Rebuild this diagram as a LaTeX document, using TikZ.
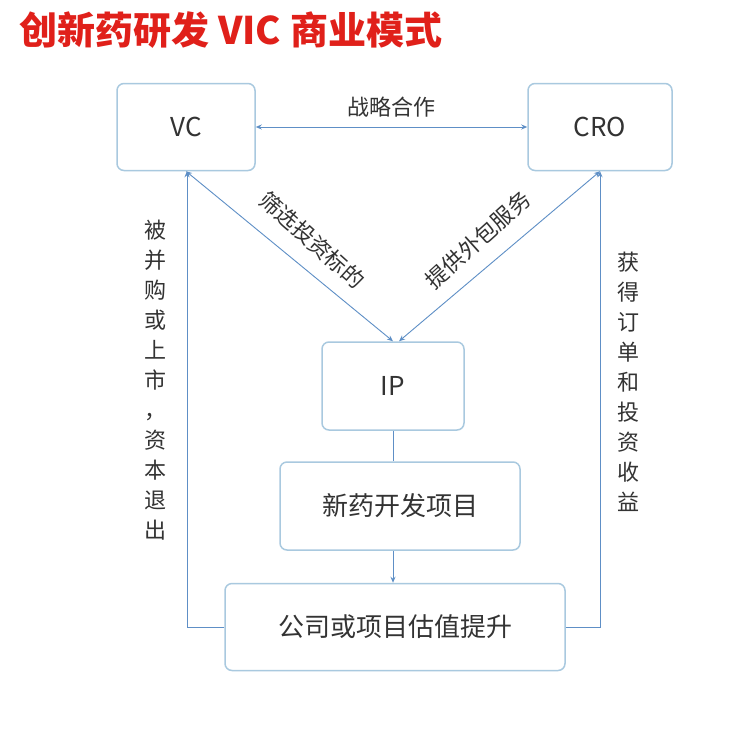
\documentclass[tikz,border=0pt]{standalone}
\usepackage{fontspec}
\setmainfont{Noto Sans CJK SC}
\usetikzlibrary{arrows.meta}
\definecolor{bd}{HTML}{A9C9DF}
\definecolor{ar}{HTML}{5E8FC6}
\definecolor{tx}{HTML}{333333}
\definecolor{tt}{HTML}{E0201A}
\begin{document}
\begin{tikzpicture}[x=1pt,y=-1pt,
 box/.style={draw=bd,line width=1.5pt,rounded corners=7pt,text=tx,font=\fontsize{26}{30}\selectfont},
 con/.style={draw=ar,line width=0.9pt,-{Stealth[length=6pt,width=5pt]}},
 lab/.style={text=tx,font=\fontsize{22}{24}\selectfont},
 vlab/.style={text=tx,font=\fontsize{22}{30}\selectfont,align=center}]
\useasboundingbox[fill=white] (0,0) rectangle (754,742);
\node[anchor=west,text=tt,font=\bfseries\fontsize{38}{41}\selectfont] (title) at (16,30) {创新药研发 VIC 商业模式};
\node[box,minimum width=138pt,minimum height=87pt] (vc) at (186,127) {VC};
\node[box,minimum width=144pt,minimum height=87pt] (cro) at (600,127) {CRO};
\node[box,minimum width=142pt,minimum height=88pt] (ip) at (393,386) {IP};
\node[box,minimum width=240pt,minimum height=88pt] (xy) at (400,506) {新药开发项目};
\node[box,minimum width=340pt,minimum height=87pt] (gs) at (395,627) {公司或项目估值提升};
\draw[con,{Stealth[length=6pt,width=5pt]}-{Stealth[length=6pt,width=5pt]}] (vc.east) -- (cro.west) node[midway,above=6pt,lab] (l1) {战略合作};
\draw[con,{Stealth[length=6pt,width=5pt]}-{Stealth[length=6pt,width=5pt]}] (vc.south) -- (ip.north);
\draw[con,{Stealth[length=6pt,width=5pt]}-{Stealth[length=6pt,width=5pt]}] (cro.south) -- ([xshift=6pt]ip.north);
\node[lab,rotate=-42] (l2) at (312,240) {筛选投资标的};
\node[lab,rotate=42] (l3) at (478,240) {提供外包服务};
\draw[draw=ar,line width=0.9pt] (ip.south) -- (ip.south |- xy.north);
\draw[con] (ip.south |- xy.south) -- (ip.south |- gs.north);
\coordinate (lc) at (187,627);
\draw[con] (gs.west) -- (lc) -- (lc |- vc.south);
\coordinate (rc) at (600,627);
\draw[con] (gs.east) -- (rc) -- (rc |- cro.south);
\node[vlab] (l4) at (155,380) {被\\并\\购\\或\\上\\市\\，\\资\\本\\退\\出};
\node[vlab] (l5) at (628,382) {获\\得\\订\\单\\和\\投\\资\\收\\益};
\end{tikzpicture}
\end{document}
